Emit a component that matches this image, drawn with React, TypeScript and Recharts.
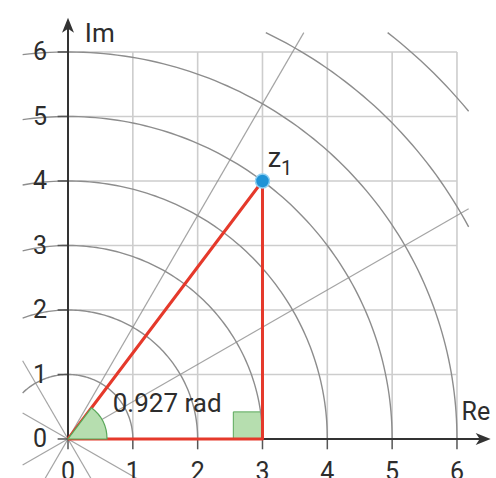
import React from 'react';
import {
  ComposedChart, Line, XAxis, YAxis, ReferenceLine, ReferenceDot, ReferenceArea,
} from 'recharts';

// values
const ticks = [0, 1, 2, 3, 4, 5, 6];
const gridValues = [1, 2, 3, 4, 5, 6];
const circleRadii = [1, 2, 3, 4, 5, 6, 7, 8];
const rayAngles = [30, 60, 120, 150];
const pointZ = { x: 3, y: 4 };
const triangle = [
  { x: 0, y: 0 },
  { x: 3, y: 4 },
  { x: 3, y: 0 },
  { x: 0, y: 0 },
];
const angleLabel = '0.927 rad';

// drawing window of the construction lines
const box = { xMin: -0.7, xMax: 6.18, yMin: -0.9, yMax: 6.3 };

const W = 496;
const H = 478;
const X_DOMAIN = [-1.049, 6.602];
const Y_DOMAIN = [-0.605, 6.806];

const FONT = 'Roboto, "Liberation Sans", sans-serif';
const INK = '#2d2d2d';
const RED = '#e5392b';
const GRID = '#cdcdcd';
const ARC = '#8d8d8d';
const GREEN_FILL = '#b6deaf';
const GREEN_LINE = '#5aa85a';

const deg = Math.PI / 180;

// one circle, clipped to the box (upper half only)
const arcPoints = (r: number) => {
  let from = 0;
  let to = 180;
  if (r > box.xMax) from = Math.acos(box.xMax / r) / deg;
  if (r > -box.xMin) to = Math.acos(box.xMin / r) / deg;
  if (r > box.yMax) to = Math.min(to, Math.asin(box.yMax / r) / deg);
  const pts: { x: number; y: number }[] = [];
  const steps = Math.max(8, Math.ceil(to - from));
  for (let i = 0; i <= steps; i++) {
    const a = (from + ((to - from) * i) / steps) * deg;
    pts.push({ x: r * Math.cos(a), y: r * Math.sin(a) });
  }
  return pts;
};

// a line through the origin, clipped to the box
const raySegment = (angle: number) => {
  const c = Math.cos(angle * deg);
  const s = Math.sin(angle * deg);
  let lo = -Infinity;
  let hi = Infinity;
  const slab = (d: number, min: number, max: number) => {
    if (Math.abs(d) < 1e-9) return;
    const t1 = min / d;
    const t2 = max / d;
    lo = Math.max(lo, Math.min(t1, t2));
    hi = Math.min(hi, Math.max(t1, t2));
  };
  slab(c, box.xMin, box.xMax);
  slab(s, box.yMin, box.yMax);
  return [
    { x: lo * c, y: lo * s },
    { x: hi * c, y: hi * s },
  ];
};

const textShape = (text: string, size: number, anchor: 'start' | 'middle' | 'end', central = false) =>
  (props: any) => (
    <text
      x={props.cx}
      y={props.cy}
      fontFamily={FONT}
      fontSize={size}
      fill={INK}
      textAnchor={anchor}
      dominantBaseline={central ? 'central' : 'auto'}
    >
      {text}
    </text>
  );

const zLabel = (props: any) => (
  <text x={props.cx} y={props.cy} fontFamily={FONT} fill={INK}>
    <tspan fontSize={27}>z</tspan>
    <tspan fontSize={20} dy={8}>1</tspan>
  </text>
);

const angleSector = (props: any) => {
  const { cx, cy } = props;
  const r = 39;
  const a = Math.atan2(pointZ.y, pointZ.x);
  const ex = cx + r * Math.cos(a);
  const ey = cy - r * Math.sin(a);
  return (
    <path
      d={`M${cx},${cy} L${cx + r},${cy} A${r},${r} 0 0 0 ${ex},${ey} Z`}
      fill={GREEN_FILL}
      stroke={GREEN_LINE}
      strokeWidth={1.2}
    />
  );
};

const arrowRight = (props: any) => {
  const { cx, cy } = props;
  return <polygon points={`${cx},${cy} ${cx - 15},${cy - 6} ${cx - 11},${cy} ${cx - 15},${cy + 6}`} fill="#333" />;
};

const arrowUp = (props: any) => {
  const { cx, cy } = props;
  return <polygon points={`${cx},${cy} ${cx - 6},${cy + 15} ${cx},${cy + 11} ${cx + 6},${cy + 15}`} fill="#333" />;
};

export default function App() {
  return (
    <div style={{ position: 'absolute', left: 0, top: 0, width: W, height: H, background: '#fff' }}>
      <ComposedChart width={W} height={H} margin={{ top: 0, right: 0, bottom: 0, left: 0 }}>
        <XAxis type="number" dataKey="x" domain={X_DOMAIN} allowDataOverflow hide />
        <YAxis type="number" dataKey="y" domain={Y_DOMAIN} allowDataOverflow hide />

        {/* square grid */}
        {gridValues.map((v) => (
          <ReferenceLine key={`gx${v}`} segment={[{ x: v, y: 0 }, { x: v, y: 6 }]}
            stroke={GRID} strokeWidth={1.6} ifOverflow="visible" />
        ))}
        {gridValues.map((v) => (
          <ReferenceLine key={`gy${v}`} segment={[{ x: 0, y: v }, { x: 6, y: v }]}
            stroke={GRID} strokeWidth={1.6} ifOverflow="visible" />
        ))}

        {/* polar grid */}
        {rayAngles.map((a) => (
          <ReferenceLine key={`ray${a}`} segment={raySegment(a)}
            stroke={ARC} strokeWidth={1.2} strokeOpacity={0.8} ifOverflow="visible" />
        ))}
        {circleRadii.map((r) => (
          <Line key={`arc${r}`} data={arcPoints(r)} dataKey="y" type="linear"
            stroke={ARC} strokeWidth={1.4} dot={false} activeDot={false} isAnimationActive={false} />
        ))}

        {/* axes */}
        {ticks.map((t) => (
          <ReferenceLine key={`ty${t}`} segment={[{ x: -0.16, y: t }, { x: 0, y: t }]}
            stroke="#555" strokeWidth={1.5} ifOverflow="visible" />
        ))}
        {ticks.map((t) => (
          <ReferenceLine key={`tx${t}`} segment={[{ x: t, y: 0 }, { x: t, y: -0.16 }]}
            stroke="#555" strokeWidth={1.5} ifOverflow="visible" />
        ))}
        <ReferenceLine segment={[{ x: 0, y: 0 }, { x: 6.4, y: 0 }]} stroke="#333" strokeWidth={2} ifOverflow="visible" />
        <ReferenceLine segment={[{ x: 0, y: 0 }, { x: 0, y: 6.4 }]} stroke="#333" strokeWidth={2} ifOverflow="visible" />
        <ReferenceDot x={6.52} y={0} r={1} shape={arrowRight} ifOverflow="visible" />
        <ReferenceDot x={0} y={6.53} r={1} shape={arrowUp} ifOverflow="visible" />

        {/* angle marks */}
        <ReferenceDot x={0} y={0} r={1} shape={angleSector} ifOverflow="visible" />
        <ReferenceArea x1={2.55} x2={3} y1={0} y2={0.42} fill={GREEN_FILL} fillOpacity={1}
          stroke={GREEN_LINE} strokeWidth={1} ifOverflow="visible" />

        {/* triangle */}
        <Line data={triangle} dataKey="y" type="linear" stroke={RED} strokeWidth={3}
          strokeLinejoin="round" dot={false} activeDot={false} isAnimationActive={false} />
        <ReferenceDot x={pointZ.x} y={pointZ.y} r={7} fill="#1f93d6" stroke="#8fd0f2"
          strokeWidth={1.5} ifOverflow="visible" />

        {/* labels */}
        {ticks.map((t) => (
          <ReferenceDot key={`ly${t}`} x={-0.43} y={t} r={1} ifOverflow="visible"
            shape={textShape(String(t), 25, 'middle', true)} />
        ))}
        {ticks.map((t) => (
          <ReferenceDot key={`lx${t}`} x={t} y={-0.5} r={1} ifOverflow="visible"
            shape={textShape(String(t), 25, 'middle', true)} />
        ))}
        <ReferenceDot x={0.26} y={6.155} r={1} ifOverflow="visible" shape={textShape('Im', 26, 'start')} />
        <ReferenceDot x={6.07} y={0.295} r={1} ifOverflow="visible" shape={textShape('Re', 25, 'start')} />
        <ReferenceDot x={0.69} y={0.42} r={1} ifOverflow="visible" shape={textShape(angleLabel, 26, 'start')} />
        <ReferenceDot x={3.08} y={4.22} r={1} ifOverflow="visible" shape={zLabel} />
      </ComposedChart>
    </div>
  );
}
